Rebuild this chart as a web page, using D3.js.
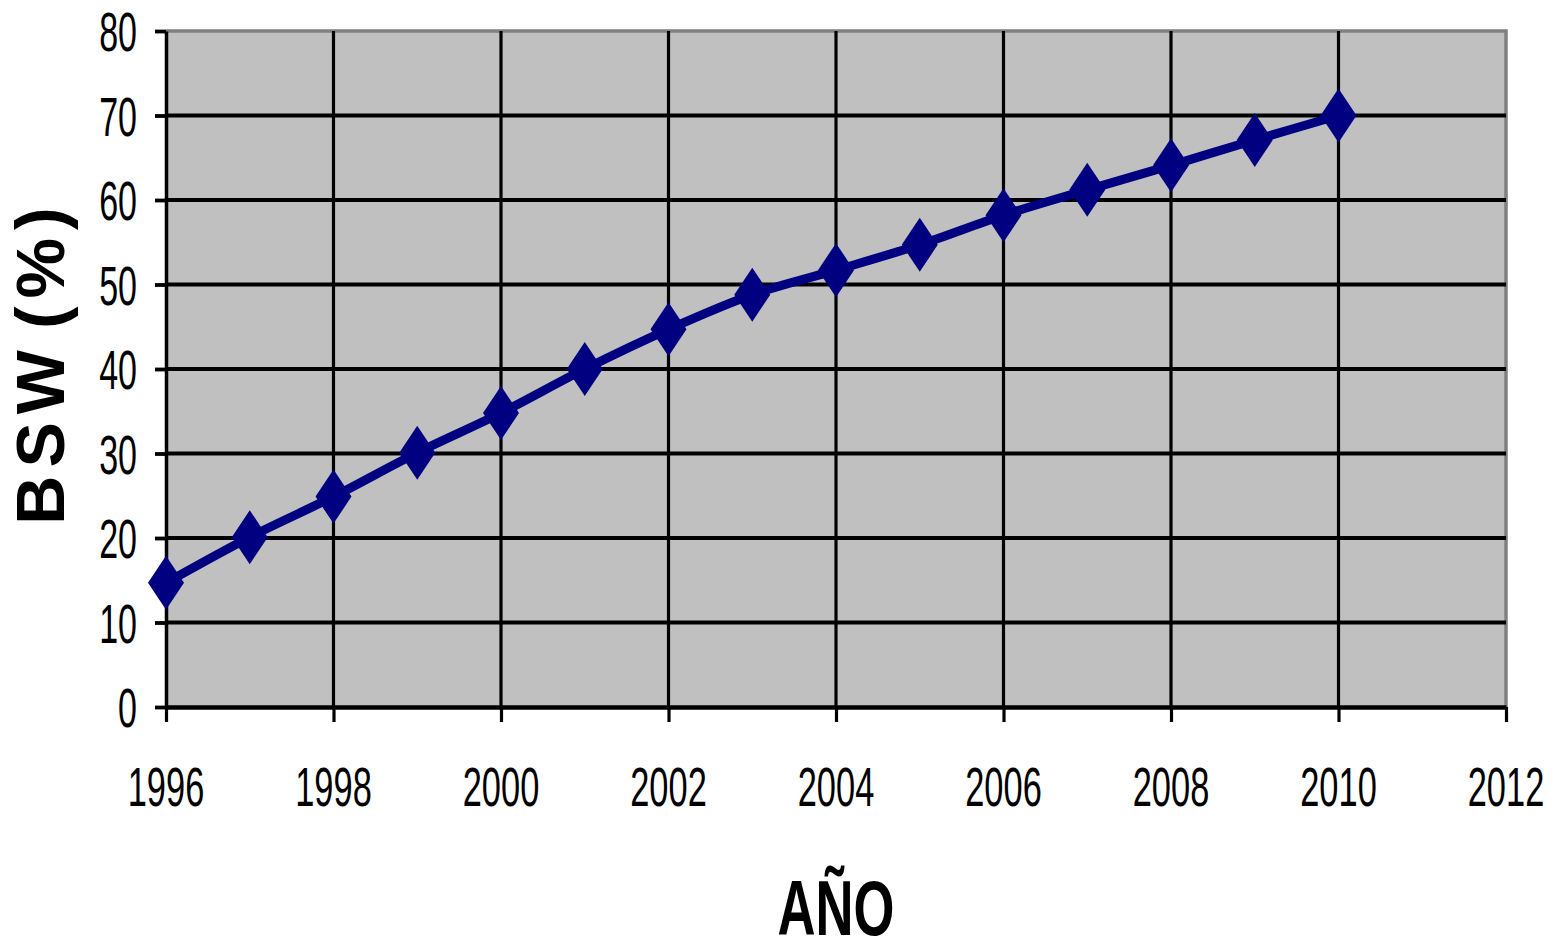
<!DOCTYPE html>
<html>
<head>
<meta charset="utf-8">
<script src="https://cdn.jsdelivr.net/npm/d3@7"></script>
<style>
  html, body { margin: 0; padding: 0; background: #fff; }
  svg { display: block; }
  text { font-family: "Liberation Sans", Arial, sans-serif; fill: #000; }
</style>
</head>
<body>
<svg id="chart" width="1557" height="943"></svg>
<script>
const years = [1996, 1997, 1998, 1999, 2000, 2001, 2002, 2003, 2004, 2005, 2006, 2007, 2008, 2009, 2010];
const bswValues = [14.7, 20.1, 24.9, 30.1, 34.8, 40.0, 44.7, 48.8, 51.7, 54.7, 58.2, 61.2, 64.1, 67.1, 70.0];
const xTicks = [1996, 1998, 2000, 2002, 2004, 2006, 2008, 2010, 2012];
const yTicks = [0, 10, 20, 30, 40, 50, 60, 70, 80];
const xTitle = "AÑO";
const yTitle = "BSW (%)";

const svg = d3.select("#chart");
const plot = { left: 166, right: 1506, top: 31, bottom: 707 };

const x = d3.scaleLinear().domain([1996, 2012]).range([plot.left, plot.right]);
const y = d3.scaleLinear().domain([0, 80]).range([plot.bottom, plot.top]);

const points = years.map((yr, i) => ({ year: yr, value: bswValues[i] }));

// plot background
svg.append("rect")
  .attr("x", plot.left)
  .attr("y", plot.top)
  .attr("width", plot.right - plot.left)
  .attr("height", plot.bottom - plot.top)
  .attr("fill", "#c0c0c0");

// gray frame on top and right
svg.append("path")
  .attr("d", `M${plot.left},${plot.top}H${plot.right}V${plot.bottom}`)
  .attr("fill", "none")
  .attr("stroke", "#808080")
  .attr("stroke-width", 3.5);

// horizontal grid
svg.append("g")
  .selectAll("line")
  .data(yTicks.filter((t) => t > 0 && t < 80))
  .join("line")
  .attr("x1", plot.left)
  .attr("x2", plot.right)
  .attr("y1", (d) => y(d))
  .attr("y2", (d) => y(d))
  .attr("stroke", "#000")
  .attr("stroke-width", 3.8);

// vertical grid
svg.append("g")
  .selectAll("line")
  .data(xTicks.filter((t) => t > 1996 && t < 2012))
  .join("line")
  .attr("x1", (d) => x(d))
  .attr("x2", (d) => x(d))
  .attr("y1", plot.top)
  .attr("y2", plot.bottom)
  .attr("stroke", "#000")
  .attr("stroke-width", 3.2);

// y axis
const yAxis = svg.append("g").attr("transform", `translate(${plot.left},0)`)
  .call(d3.axisLeft(y).tickValues(yTicks).tickSize(11).tickSizeOuter(0).tickFormat(""));
yAxis.select(".domain").attr("stroke", "#000").attr("stroke-width", 3.5);
yAxis.selectAll(".tick line").attr("stroke", "#000").attr("stroke-width", 3.8);

svg.append("g")
  .selectAll("text")
  .data(yTicks)
  .join("text")
  .attr("transform", (d) => `translate(137,${y(d) + 20}) scale(0.85,1.4)`)
  .attr("text-anchor", "end")
  .attr("font-size", 40)
  .text((d) => d);

// x axis
const xAxis = svg.append("g").attr("transform", `translate(0,${plot.bottom})`)
  .call(d3.axisBottom(x).tickValues(xTicks).tickSize(15).tickSizeOuter(0).tickFormat(""));
xAxis.select(".domain").attr("stroke", "#000").attr("stroke-width", 4.5);
xAxis.selectAll(".tick line").attr("stroke", "#000").attr("stroke-width", 3.2);

svg.append("g")
  .selectAll("text")
  .data(xTicks)
  .join("text")
  .attr("transform", (d) => `translate(${x(d)},806) scale(0.86,1.4)`)
  .attr("text-anchor", "middle")
  .attr("font-size", 40)
  .text((d) => d);

// series line
const line = d3.line()
  .x((d) => x(d.year))
  .y((d) => y(d.value))
  .curve(d3.curveCatmullRom.alpha(0.5));

svg.append("path")
  .datum(points)
  .attr("d", line)
  .attr("fill", "none")
  .attr("stroke", "#000080")
  .attr("stroke-width", 9)
  .attr("stroke-linejoin", "round");

// diamond markers
svg.append("g")
  .selectAll("path")
  .data(points)
  .join("path")
  .attr("transform", (d) => `translate(${x(d.year)},${y(d.value)})`)
  .attr("d", "M0,-27L18,0L0,27L-18,0Z")
  .attr("fill", "#000080");

// axis titles
svg.append("text")
  .attr("transform", `translate(${(plot.left + plot.right) / 2},935) scale(0.94,1.4)`)
  .attr("text-anchor", "middle")
  .attr("font-size", 56)
  .attr("font-weight", "bold")
  .text(xTitle);

svg.append("text")
  .attr("transform", "translate(64,362) rotate(-90)")
  .attr("text-anchor", "middle")
  .attr("font-size", 68)
  .attr("font-weight", "bold")
  .attr("letter-spacing", 8)
  .attr("word-spacing", -14)
  .text(yTitle);
</script>
</body>
</html>
